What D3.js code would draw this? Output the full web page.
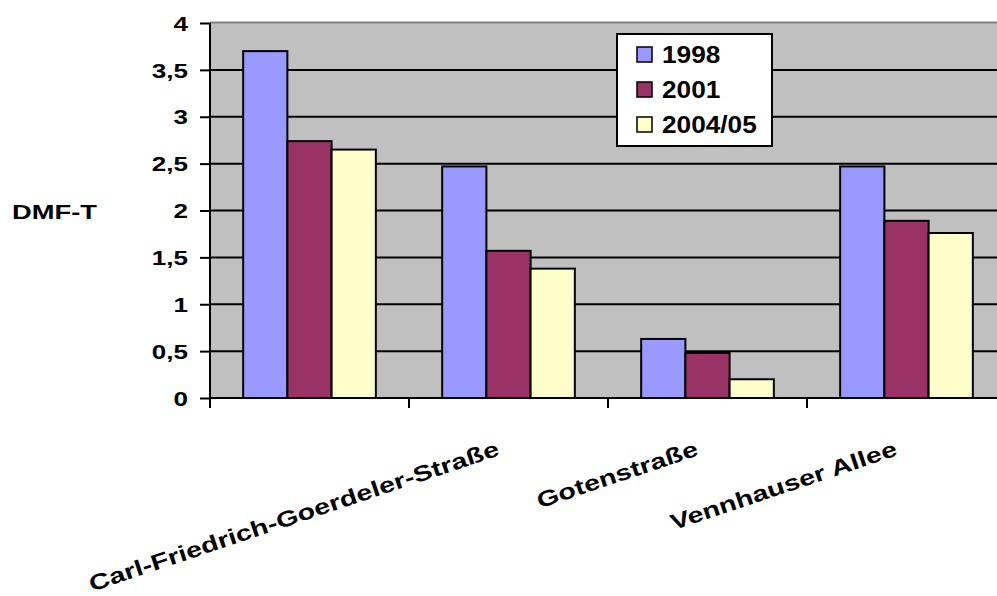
<!DOCTYPE html>
<meta charset="utf-8">
<style>
body { margin: 0; background: #fff; }
svg { display: block; }
text { font-family: "Liberation Sans", Arial, sans-serif; font-weight: bold; fill: #000; }
.axis path { display: none; }
.axis line { stroke: #000; stroke-width: 2px; }
</style>
<body>
<div id="chart"></div>
<script src="https://d3js.org/d3.v7.min.js"></script>
<script>
var categories = ["", "Carl-Friedrich-Goerdeler-Straße", "Gotenstraße", "Vennhauser Allee"];
var series = ["1998", "2001", "2004/05"];
var v1998 = [3.70, 2.47, 0.63, 2.47];
var v2001 = [2.74, 1.57, 0.48, 1.89];
var v2004 = [2.65, 1.38, 0.20, 1.76];
var yTicks = [0, 0.5, 1, 1.5, 2, 2.5, 3, 3.5, 4];
var colors = ["#9999ff", "#993366", "#ffffcc"];

var values = [v1998, v2001, v2004];
var W = 997, H = 596;
var pLeft = 210, pRight = 1006, pTop = 23, pBottom = 398;

// glyphs in the original look wider than normal, so stretch text horizontally
function stretch(sel, k) {
  sel.each(function() {
    var len = this.getComputedTextLength();
    d3.select(this).attr("textLength", len * k).attr("lengthAdjust", "spacingAndGlyphs");
  });
}

var svg = d3.select("#chart").append("svg").attr("width", W).attr("height", H);

var x = d3.scaleBand().domain(d3.range(categories.length)).range([pLeft, pRight]).paddingInner(0).paddingOuter(0);
var xs = d3.scaleBand().domain(d3.range(series.length)).range([0, x.bandwidth()]).paddingInner(0).paddingOuter(0.75);
var y = d3.scaleLinear().domain([0, 4]).range([pBottom, pTop]);

// plot background
svg.append("rect").attr("x", pLeft).attr("y", y(4)).attr("width", pRight - pLeft).attr("height", pBottom - y(4)).attr("fill", "#c0c0c0");
svg.append("line").attr("x1", pLeft).attr("x2", pRight).attr("y1", y(4) - 0.5).attr("y2", y(4) - 0.5).attr("stroke", "#808080").attr("stroke-width", 2);

// gridlines
svg.append("g").selectAll("line").data(yTicks.filter(function(d) { return d > 0 && d < 4; }))
  .enter().append("line")
  .attr("x1", pLeft).attr("x2", pRight)
  .attr("y1", function(d) { return y(d); }).attr("y2", function(d) { return y(d); })
  .attr("stroke", "#000").attr("stroke-width", 2);

// bars
var grp = svg.append("g").selectAll("g").data(categories).enter().append("g")
  .attr("transform", function(d, i) { return "translate(" + x(i) + ",0)"; });
grp.selectAll("rect").data(function(d, i) { return values.map(function(s, j) { return { s: j, v: s[i] }; }); })
  .enter().append("rect")
  .attr("x", function(d) { return xs(d.s); })
  .attr("y", function(d) { return y(d.v); })
  .attr("width", xs.bandwidth())
  .attr("height", function(d) { return pBottom - y(d.v); })
  .attr("fill", function(d) { return colors[d.s]; })
  .attr("stroke", "#000").attr("stroke-width", 2);

// axes
var yAxis = d3.axisLeft(y).tickValues(yTicks).tickSize(10).tickPadding(12)
  .tickFormat(function(d) { return String(d).replace(".", ","); });
var ya = svg.append("g").attr("class", "axis").attr("transform", "translate(" + pLeft + ",0)").call(yAxis);
ya.selectAll("text").style("font-size", "21px").attr("font-family", null).attr("fill", null).attr("dy", "0.34em");
stretch(ya.selectAll("text"), 1.24);
svg.append("line").attr("x1", pLeft).attr("x2", pLeft).attr("y1", y(4)).attr("y2", pBottom + 10).attr("stroke", "#000").attr("stroke-width", 2);
svg.append("line").attr("x1", pLeft).attr("x2", pRight).attr("y1", pBottom).attr("y2", pBottom).attr("stroke", "#000").attr("stroke-width", 2);

// category ticks at band edges
svg.append("g").selectAll("line").data(d3.range(categories.length + 1))
  .enter().append("line")
  .attr("x1", function(i) { return pLeft + i * x.step(); }).attr("x2", function(i) { return pLeft + i * x.step(); })
  .attr("y1", pBottom).attr("y2", pBottom + 10)
  .attr("stroke", "#000").attr("stroke-width", 2);

// rotated category labels, right end at the category centre
var xl = svg.append("g").selectAll("text").data(categories).enter().append("text")
  .attr("transform", function(d, i) { return "translate(" + (x(i) + x.bandwidth() / 2 - 8) + ",455) rotate(-18.5)"; })
  .attr("text-anchor", "end")
  .style("font-size", "22px")
  .text(function(d) { return d; });
stretch(xl.filter(function(d) { return d; }), 1.3);

// y title
var yt = svg.append("text").attr("x", 12).attr("y", 219).style("font-size", "21px").text("DMF-T");
stretch(yt, 1.3);

// legend
var lg = svg.append("g").attr("transform", "translate(617,34)");
lg.append("rect").attr("width", 155).attr("height", 112).attr("fill", "#fff").attr("stroke", "#000").attr("stroke-width", 2);
var item = lg.selectAll("g").data(series).enter().append("g")
  .attr("transform", function(d, i) { return "translate(20," + (13 + i * 35) + ")"; });
item.append("rect").attr("width", 15).attr("height", 15)
  .attr("fill", function(d, i) { return colors[i]; }).attr("stroke", "#000").attr("stroke-width", 1.5);
var lt = item.append("text").attr("x", 25).attr("y", 16).style("font-size", "23px").text(function(d) { return d; });
stretch(lt, 1.14);
</script>
</body>
